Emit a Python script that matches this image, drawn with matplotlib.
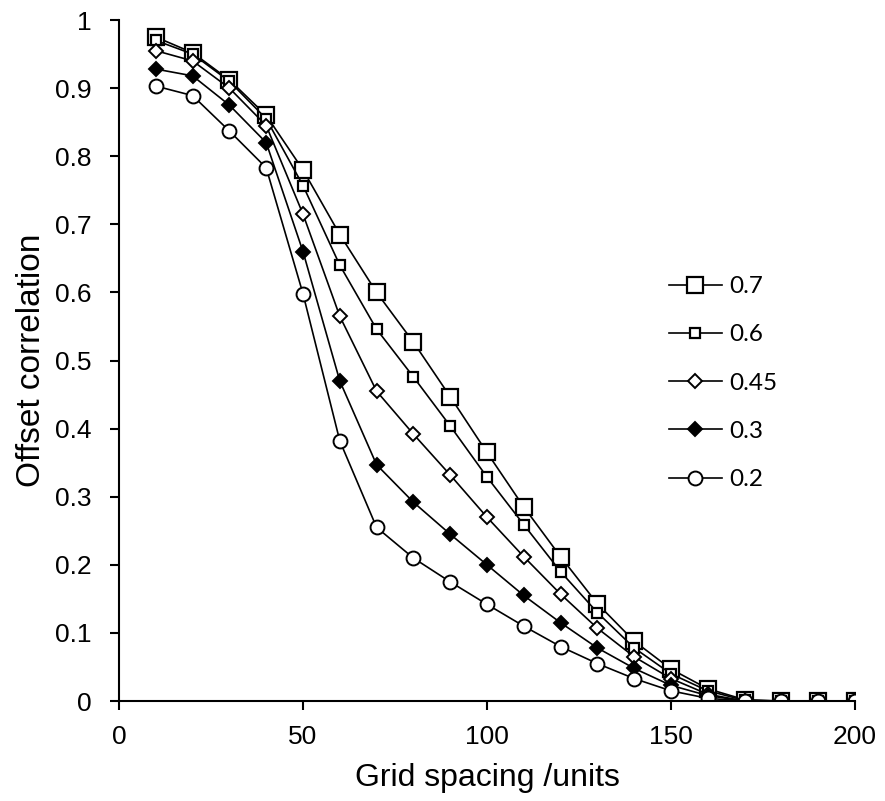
import numpy as np
import matplotlib
matplotlib.use("Agg")
import matplotlib.pyplot as plt

plt.rcParams['font.family'] = ['Liberation Sans', 'DejaVu Sans']

# grid spacing (units)
spacing = [10, 20, 30, 40, 50, 60, 70, 80, 90, 100,
           110, 120, 130, 140, 150, 160, 170, 180, 190, 200]

# offset correlation for each parameter value
corr_07 = [0.975, 0.952, 0.912, 0.860, 0.780, 0.685, 0.600, 0.527, 0.447, 0.365,
           0.285, 0.212, 0.143, 0.088, 0.047, 0.018, 0.002, 0.0, 0.0, 0.0]
corr_06 = [0.970, 0.950, 0.910, 0.855, 0.757, 0.640, 0.546, 0.476, 0.404, 0.329,
           0.259, 0.190, 0.130, 0.078, 0.040, 0.015, 0.001, 0.0, 0.0, 0.0]
corr_045 = [0.955, 0.940, 0.900, 0.845, 0.715, 0.565, 0.455, 0.392, 0.332, 0.270,
            0.212, 0.157, 0.107, 0.065, 0.033, 0.010, 0.0, 0.0, 0.0, 0.0]
corr_03 = [0.928, 0.918, 0.875, 0.820, 0.660, 0.470, 0.347, 0.292, 0.245, 0.200,
           0.155, 0.115, 0.078, 0.048, 0.023, 0.008, 0.0, 0.0, 0.0, 0.0]
corr_02 = [0.903, 0.889, 0.837, 0.783, 0.598, 0.382, 0.255, 0.210, 0.175, 0.142,
           0.110, 0.080, 0.055, 0.033, 0.015, 0.004, 0.0, 0.0, 0.0, 0.0]

labels = ['0.7', '0.6', '0.45', '0.3', '0.2']
ytick_labels = ['0', '0.1', '0.2', '0.3', '0.4', '0.5', '0.6', '0.7', '0.8', '0.9', '1']

fig = plt.figure(figsize=(8.85, 8.01), dpi=100)
ax = fig.add_axes([0.1345, 0.1248, 0.8315, 0.8502])

ax.plot(spacing, corr_07, color='black', lw=1.2, marker='s', ms=11,
        mfc='white', mec='black', mew=1.6, label=labels[0])
ax.plot(spacing, corr_06, color='black', lw=1.2, marker='s', ms=7.5,
        mfc='white', mec='black', mew=1.6, label=labels[1])
ax.plot(spacing, corr_045, color='black', lw=1.2, marker='D', ms=7,
        mfc='white', mec='black', mew=1.4, label=labels[2])
ax.plot(spacing, corr_03, color='black', lw=1.2, marker='D', ms=7,
        mfc='black', mec='black', mew=1.4, label=labels[3])
ax.plot(spacing, corr_02, color='black', lw=1.2, marker='o', ms=10,
        mfc='white', mec='black', mew=1.4, label=labels[4])

ax.set_xlim(0, 200)
ax.set_ylim(0, 1)
ax.set_xticks([0, 50, 100, 150, 200])
ax.set_yticks(np.arange(0, 1.01, 0.1))
ax.set_yticklabels(ytick_labels)

for s in ['top', 'right']:
    ax.spines[s].set_visible(False)
for s in ['left', 'bottom']:
    ax.spines[s].set_linewidth(1.5)
ax.tick_params(direction='out', length=6.5, width=1.5, labelsize=19)
ax.tick_params(axis='y', pad=13)
ax.tick_params(axis='x', pad=11)

ax.set_xlabel('Grid spacing /units', fontsize=23, labelpad=10)
ax.set_ylabel('Offset correlation', fontsize=24, labelpad=6)

leg = ax.legend(loc='upper left', bbox_to_anchor=(0.747, 0.624), frameon=False,
                handlelength=2.2, labelspacing=1.12, handletextpad=0.3,
                borderpad=0, borderaxespad=0, prop={'family': 'Lato', 'size': 17.5})

fig.savefig('out.png', dpi=100)
